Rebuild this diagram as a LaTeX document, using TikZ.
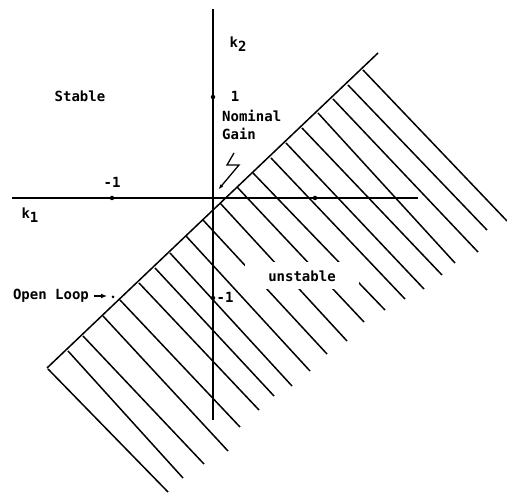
\documentclass[tikz,border=0pt]{standalone}
\usepackage{fontspec}
\setmonofont{DejaVu Sans Mono}
\usetikzlibrary{arrows.meta}
\tikzset{
  axis/.style  = {line width=1.6pt},
  hatch/.style = {line width=1.5pt},
  tickdot/.style = {circle, fill, inner sep=0pt, minimum size=4.5pt},
  lbl/.style   = {font=\fontsize{14}{18}\selectfont\ttfamily\bfseries, inner sep=1pt},
  ptr/.style   = {line width=1.3pt, -{Latex[length=6pt,width=3.5pt]}},
}
\newcommand{\sub}[1]{\raisebox{-0.6ex}{#1}}

\begin{document}
\begin{tikzpicture}[x=1pt, y=-1pt]
  \useasboundingbox (0,0) rectangle (507,494);

  % axes
  \coordinate (k1l) at (12,198);
  \coordinate (k1r) at (418,198);
  \coordinate (k2t) at (213,9);
  \coordinate (k2b) at (213,420);
  \draw[axis] (k1l) -- (k1r);
  \draw[axis] (k2t) -- (k2b);

  \node[tickdot] (xm1) at (112,198) {};
  \node[tickdot] (xp1) at (315,198) {};
  \node[tickdot] (yp1) at (213,97) {};
  \node[tickdot] (ym1) at (213,298) {};

  % stability boundary and hatching
  \coordinate (bl) at (47,368);
  \coordinate (tr) at (378,53);
  \draw[hatch] (bl) -- (tr);
  \foreach \xa/\ya/\xb/\yb in {363/70/507/221, 348/85/487/230, 333/99/478/252,
      318/113/455/263, 302/128/442/275, 286/143/424/289, 271/158/405/299,
      253/173/385/310, 237/187/364/322, 220/203/347/341, 203/220/327/354,
      186/236/310/371, 170/253/292/386, 155/268/274/396, 139/283/259/410,
      120/300/240/427, 103/316/228/451, 83/336/204/464, 68/351/183/478,
      48/369/168/492}
    \draw[hatch] (\xa,\ya) -- (\xb,\yb);

  \node[lbl, fill=white, minimum width=114pt, minimum height=27pt] (unstable) at (302,276) {unstable};

  % labels
  \node[lbl] (stable) at (80,96) {Stable};
  \node[lbl] (k2) at (238,44) {k\sub{2}};
  \node[lbl] (k1) at (30,215) {k\sub{1}};
  \node[lbl] (one) at (235,96) {1};
  \node[lbl] (xm1lbl) at (112,182) {-1};
  \node[lbl] (ym1lbl) at (225,297) {-1};
  \node[lbl, align=left, anchor=north west] (nomgain) at (221,109) {Nominal\\Gain};

  % nominal gain pointer
  \coordinate (sq1) at (234,153);
  \coordinate (sq2) at (227,165);
  \coordinate (sq3) at (239,165);
  \coordinate (nominal) at (218,190);
  \draw[ptr] (sq1) -- (sq2) -- (sq3) -- (nominal);

  % open loop pointer
  \node[lbl] (openloop) at (51,296) {Open Loop};
  \coordinate (olhead) at (107,296);
  \draw[ptr, line width=1.6pt, -{Latex[length=6pt,width=5pt]}] ([xshift=4pt]openloop.east) -- (olhead);
  \node[circle, fill, inner sep=0pt, minimum size=3pt] (olpoint) at (113,297) {};
\end{tikzpicture}
\end{document}
